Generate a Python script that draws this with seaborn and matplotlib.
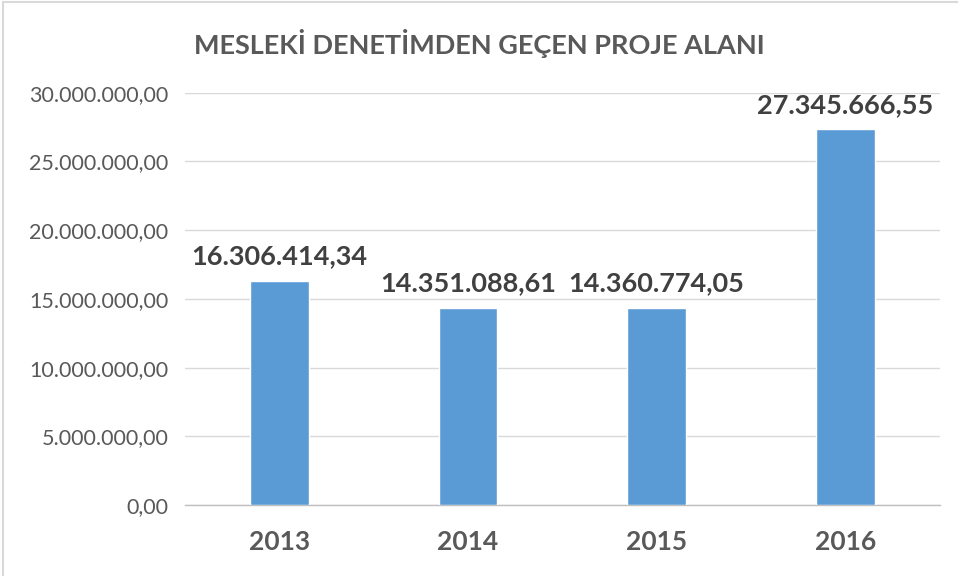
import matplotlib
matplotlib.use('Agg')
import matplotlib.pyplot as plt
import pandas as pd
import seaborn as sns
from matplotlib.ticker import FuncFormatter

# Data
years = ['2013', '2014', '2015', '2016']
areas = [16306414.34, 14351088.61, 14360774.05, 27345666.55]
title = 'MESLEKİ DENETİMDEN GEÇEN PROJE ALANI'


def tr_format(v):
    # Turkish number format: 1.234.567,89
    s = f'{v:,.2f}'
    return s.replace(',', '#').replace('.', ',').replace('#', '.')


df = pd.DataFrame({'year': years, 'area': areas})

sns.set_style('white')
plt.rcParams['font.family'] = ['Lato', 'DejaVu Sans']

fig = plt.figure(figsize=(9.58, 5.76), dpi=100)
ax = fig.add_axes([0.193, 0.123, 0.788, 0.716])

sns.barplot(data=df, x='year', y='area', color='#5B9BD5', width=0.31,
            saturation=1, ax=ax, zorder=3)

ax.set_ylim(0, 30000000)
ax.set_yticks(range(0, 30000001, 5000000))
ax.yaxis.set_major_formatter(FuncFormatter(lambda v, p: tr_format(v)))
ax.grid(axis='y', color='#D9D9D9', linewidth=1, zorder=0)
ax.set_xlim(-0.5, 3.5)

for s in ['top', 'right', 'left']:
    ax.spines[s].set_visible(False)
ax.spines['bottom'].set_color('#BFBFBF')
ax.spines['bottom'].set_linewidth(1)

ax.tick_params(axis='y', length=0, labelsize=15.5, labelcolor='#595959', pad=12)
ax.tick_params(axis='x', length=0, labelsize=19, labelcolor='#595959', pad=18)
for lbl in ax.get_xticklabels():
    lbl.set_fontweight('bold')
ax.set_xlabel('')
ax.set_ylabel('')

for i, v in enumerate(areas):
    ax.annotate(tr_format(v), (i, v), xytext=(0, 9), textcoords='offset points',
                ha='center', va='bottom', fontsize=19.5, fontweight='bold',
                color='#404040', zorder=4)

fig.text(0.5, 0.925, title, ha='center', va='center', fontsize=19.5,
         fontweight='bold', color='#595959')

# light frame around the chart area
fig.patches.append(plt.Rectangle((0.003, -0.01), 1.1, 1.007, transform=fig.transFigure,
                                 fill=False, edgecolor='#D9D9D9', linewidth=1.5))

fig.savefig('out.png', dpi=100)
